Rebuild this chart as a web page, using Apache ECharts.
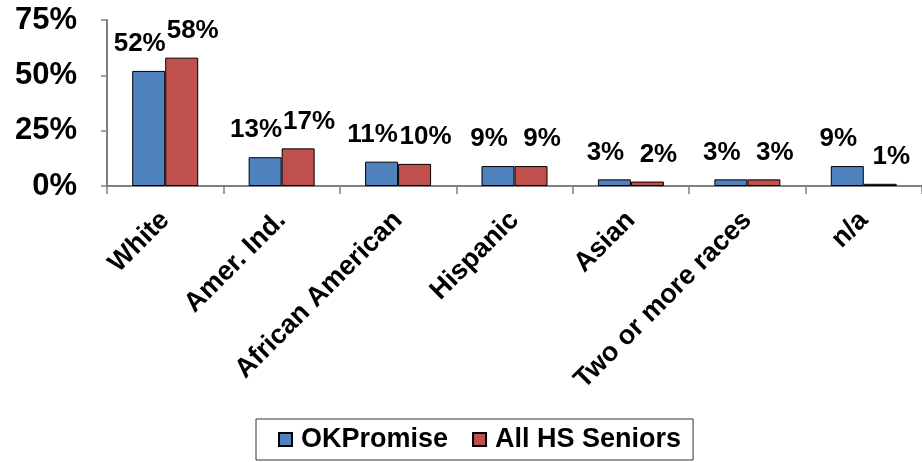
<!DOCTYPE html>
<html>
<head>
<meta charset="utf-8">
<script src="https://cdn.jsdelivr.net/npm/echarts@6/dist/echarts.min.js"></script>
<style>
html,body{margin:0;padding:0;background:#fff;}
#chart{width:922px;height:462px;}
</style>
</head>
<body>
<div id="chart"></div>
<script>
const categories = ['White', 'Amer. Ind.', 'African American', 'Hispanic', 'Asian', 'Two or more races', 'n/a'];
const okPromise = [52, 13, 11, 9, 3, 3, 9];
const allSeniors = [58, 17, 10, 9, 2, 3, 1];
const seriesNames = ['OKPromise', 'All HS Seniors'];

const FONT = 'Arial, "Liberation Sans", sans-serif';
const chart = echarts.init(document.getElementById('chart'));
const labelBase = {
  show: true,
  position: 'top',
  distance: 14,
  formatter: '{c}%',
  fontFamily: FONT,
  fontWeight: 'bold',
  fontSize: 26,
  color: '#000'
};
chart.setOption({
  animation: false,
  backgroundColor: '#fff',
  grid: { left: 107, right: -8, top: 20, bottom: 276, containLabel: false },
  legend: {
    left: 256,
    bottom: 2,
    data: seriesNames,
    itemWidth: 13,
    itemHeight: 13,
    itemGap: 24,
    padding: [7, 12, 7, 22],
    borderColor: '#333',
    borderWidth: 1,
    icon: 'rect',
    textStyle: { fontFamily: FONT, fontWeight: 'bold', fontSize: 27, color: '#000', padding: [0, 0, 0, 4] }
  },
  xAxis: {
    type: 'category',
    data: categories,
    axisLine: { lineStyle: { color: '#808080', width: 2 } },
    axisTick: { show: true, length: 8, lineStyle: { color: '#808080', width: 1.5 } },
    axisLabel: {
      interval: 0,
      rotate: 45,
      margin: 30,
      fontFamily: FONT,
      fontWeight: 'bold',
      fontSize: 27,
      color: '#000'
    }
  },
  yAxis: {
    type: 'value',
    min: 0,
    max: 75,
    interval: 25,
    axisLine: { show: true, lineStyle: { color: '#808080', width: 2 } },
    axisTick: { show: true, length: 6, lineStyle: { color: '#808080', width: 1.5 } },
    splitLine: { show: false },
    axisLabel: {
      formatter: '{value}%',
      margin: 30,
      fontFamily: FONT,
      fontWeight: 'bold',
      fontSize: 31,
      color: '#000'
    }
  },
  series: [
    {
      name: seriesNames[0],
      type: 'bar',
      data: okPromise,
      barWidth: 33,
      barGap: '0%',
      itemStyle: { color: '#4F81BD', borderColor: '#000', borderWidth: 1 },
      label: Object.assign({}, labelBase, { offset: [-9, 0] })
    },
    {
      name: seriesNames[1],
      type: 'bar',
      data: allSeniors,
      barWidth: 33,
      barGap: '0%',
      itemStyle: { color: '#C0504D', borderColor: '#000', borderWidth: 1 },
      label: Object.assign({}, labelBase, { offset: [11, 0] })
    }
  ]
});
</script>
</body>
</html>
